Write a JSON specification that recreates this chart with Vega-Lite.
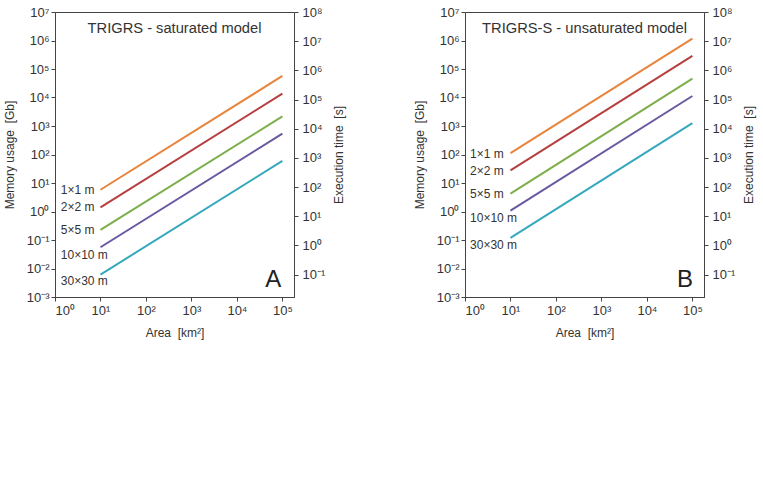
{
  "$schema": "https://vega.github.io/schema/vega-lite/v6.json",
  "background": "white",
  "padding": {"left": 2, "top": 5, "right": 5, "bottom": 5},
  "config": {
    "font": "Liberation Sans",
    "view": {"stroke": "#444", "strokeWidth": 1},
    "axis": {
      "grid": false,
      "domainColor": "#444",
      "tickColor": "#444",
      "labelColor": "#333",
      "titleColor": "#333",
      "labelFontSize": 13,
      "titleFontSize": 12,
      "titleFontWeight": "normal",
      "tickSize": 4,
      "labelPadding": 2
    },
    "title": {"fontSize": 14.7, "fontWeight": "normal", "color": "#333"},
    "text": {"font": "Liberation Sans"}
  },
  "datasets": {
    "linesA": [
      {"res": "1×1 m", "area": 10, "mem": 5.8},
      {"res": "1×1 m", "area": 100000, "mem": 57000},
      {"res": "2×2 m", "area": 10, "mem": 1.39},
      {"res": "2×2 m", "area": 100000, "mem": 13700},
      {"res": "5×5 m", "area": 10, "mem": 0.227},
      {"res": "5×5 m", "area": 100000, "mem": 2170},
      {"res": "10×10 m", "area": 10, "mem": 0.0557},
      {"res": "10×10 m", "area": 100000, "mem": 537},
      {"res": "30×30 m", "area": 10, "mem": 0.0061},
      {"res": "30×30 m", "area": 100000, "mem": 60}
    ],
    "linesB": [
      {"res": "1×1 m", "area": 10, "mem": 112},
      {"res": "1×1 m", "area": 100000, "mem": 1170000},
      {"res": "2×2 m", "area": 10, "mem": 27.6},
      {"res": "2×2 m", "area": 100000, "mem": 288000},
      {"res": "5×5 m", "area": 10, "mem": 4.27},
      {"res": "5×5 m", "area": 100000, "mem": 46000},
      {"res": "10×10 m", "area": 10, "mem": 1.08},
      {"res": "10×10 m", "area": 100000, "mem": 11300},
      {"res": "30×30 m", "area": 10, "mem": 0.119},
      {"res": "30×30 m", "area": 100000, "mem": 1270}
    ],
    "labelsA": [
      {"res": "1×1 m", "area": 1.34, "mem": 5.7},
      {"res": "2×2 m", "area": 1.34, "mem": 1.43},
      {"res": "5×5 m", "area": 1.34, "mem": 0.221},
      {"res": "10×10 m", "area": 1.34, "mem": 0.0292},
      {"res": "30×30 m", "area": 1.34, "mem": 0.00355}
    ],
    "labelsB": [
      {"res": "1×1 m", "area": 1.29, "mem": 106},
      {"res": "2×2 m", "area": 1.29, "mem": 26.3},
      {"res": "5×5 m", "area": 1.29, "mem": 4.27},
      {"res": "10×10 m", "area": 1.29, "mem": 0.58},
      {"res": "30×30 m", "area": 1.29, "mem": 0.067}
    ],
    "letterA": [{"txt": "A", "area": 63000, "mem": 0.0041}],
    "letterB": [{"txt": "B", "area": 69000, "mem": 0.0041}],
    "timeExtent": [{"t": 0.017}, {"t": 100000000}]
  },
  "spacing": 66,
  "hconcat": [
    {
      "width": 239,
      "height": 285,
      "title": {"text": "TRIGRS - saturated model", "offset": -30, "anchor": "middle", "frame": "group"},
      "layer": [
        {
          "layer": [
            {
              "data": {"name": "linesA"},
              "mark": {"type": "line", "strokeWidth": 2},
              "encoding": {
                "x": {"field": "area", "type": "quantitative",
                  "scale": {"type": "log", "domain": [1, 180000], "nice": false},
                  "axis": {"values": [1, 10, 100, 1000, 10000, 100000], "title": "Area\u00a0\u00a0[km²]", "titlePadding": 10, "labelPadding": 3,
                    "labelExpr": "'10' + (datum.value < 0.99 ? '⁻' : '') + substring('⁰¹²³⁴⁵⁶⁷⁸⁹', abs(round(log(datum.value)/LN10)), abs(round(log(datum.value)/LN10))+1)"}},
                "y": {"field": "mem", "type": "quantitative",
                  "scale": {"type": "log", "domain": [0.001, 10000000], "nice": false},
                  "axis": {"orient": "left", "values": [0.001, 0.01, 0.1, 1, 10, 100, 1000, 10000, 100000, 1000000, 10000000],
                    "title": "Memory usage\u00a0\u00a0[Gb]", "titlePadding": 10,
                    "labelExpr": "'10' + (datum.value < 0.99 ? '⁻' : '') + substring('⁰¹²³⁴⁵⁶⁷⁸⁹', abs(round(log(datum.value)/LN10)), abs(round(log(datum.value)/LN10))+1)"}},
                "color": {"field": "res", "type": "nominal",
                  "scale": {"domain": ["1×1 m", "2×2 m", "5×5 m", "10×10 m", "30×30 m"],
                    "range": ["#E8843C", "#B5403F", "#7DAE4A", "#6A58A0", "#35A8BE"]},
                  "legend": null}
              }
            },
            {
              "data": {"name": "labelsA"},
              "mark": {"type": "text", "align": "left", "baseline": "middle", "fontSize": 12, "color": "#333"},
              "encoding": {
                "x": {"field": "area", "type": "quantitative"},
                "y": {"field": "mem", "type": "quantitative"},
                "text": {"field": "res"}
              }
            },
            {
              "data": {"name": "letterA"},
              "mark": {"type": "text", "align": "center", "baseline": "middle", "fontSize": 24, "color": "#222"},
              "encoding": {
                "x": {"field": "area", "type": "quantitative"},
                "y": {"field": "mem", "type": "quantitative"},
                "text": {"field": "txt"}
              }
            }
          ]
        },
        {
          "data": {"name": "timeExtent"},
          "mark": {"type": "point", "opacity": 0},
          "encoding": {
            "y": {"field": "t", "type": "quantitative",
              "scale": {"type": "log", "domain": [0.017, 100000000], "nice": false},
              "axis": {"orient": "right", "values": [0.1, 1, 10, 100, 1000, 10000, 100000, 1000000, 10000000, 100000000],
                "title": "Execution time\u00a0\u00a0[s]", "titleAngle": 270, "titleBaseline": "top", "titlePadding": 9, "labelPadding": 4,
                "labelExpr": "'10' + (datum.value < 0.99 ? '⁻' : '') + substring('⁰¹²³⁴⁵⁶⁷⁸⁹', abs(round(log(datum.value)/LN10)), abs(round(log(datum.value)/LN10))+1)"}}
          }
        }
      ],
      "resolve": {"scale": {"y": "independent"}}
    },
    {
      "width": 239,
      "height": 285,
      "title": {"text": "TRIGRS-S - unsaturated model", "offset": -30, "anchor": "middle", "frame": "group"},
      "layer": [
        {
          "layer": [
            {
              "data": {"name": "linesB"},
              "mark": {"type": "line", "strokeWidth": 2},
              "encoding": {
                "x": {"field": "area", "type": "quantitative",
                  "scale": {"type": "log", "domain": [1, 180000], "nice": false},
                  "axis": {"values": [1, 10, 100, 1000, 10000, 100000], "title": "Area\u00a0\u00a0[km²]", "titlePadding": 10, "labelPadding": 3,
                    "labelExpr": "'10' + (datum.value < 0.99 ? '⁻' : '') + substring('⁰¹²³⁴⁵⁶⁷⁸⁹', abs(round(log(datum.value)/LN10)), abs(round(log(datum.value)/LN10))+1)"}},
                "y": {"field": "mem", "type": "quantitative",
                  "scale": {"type": "log", "domain": [0.001, 10000000], "nice": false},
                  "axis": {"orient": "left", "values": [0.001, 0.01, 0.1, 1, 10, 100, 1000, 10000, 100000, 1000000, 10000000],
                    "title": "Memory usage\u00a0\u00a0[Gb]", "titlePadding": 10,
                    "labelExpr": "'10' + (datum.value < 0.99 ? '⁻' : '') + substring('⁰¹²³⁴⁵⁶⁷⁸⁹', abs(round(log(datum.value)/LN10)), abs(round(log(datum.value)/LN10))+1)"}},
                "color": {"field": "res", "type": "nominal",
                  "scale": {"domain": ["1×1 m", "2×2 m", "5×5 m", "10×10 m", "30×30 m"],
                    "range": ["#E8843C", "#B5403F", "#7DAE4A", "#6A58A0", "#35A8BE"]},
                  "legend": null}
              }
            },
            {
              "data": {"name": "labelsB"},
              "mark": {"type": "text", "align": "left", "baseline": "middle", "fontSize": 12, "color": "#333"},
              "encoding": {
                "x": {"field": "area", "type": "quantitative"},
                "y": {"field": "mem", "type": "quantitative"},
                "text": {"field": "res"}
              }
            },
            {
              "data": {"name": "letterB"},
              "mark": {"type": "text", "align": "center", "baseline": "middle", "fontSize": 24, "color": "#222"},
              "encoding": {
                "x": {"field": "area", "type": "quantitative"},
                "y": {"field": "mem", "type": "quantitative"},
                "text": {"field": "txt"}
              }
            }
          ]
        },
        {
          "data": {"name": "timeExtent"},
          "mark": {"type": "point", "opacity": 0},
          "encoding": {
            "y": {"field": "t", "type": "quantitative",
              "scale": {"type": "log", "domain": [0.017, 100000000], "nice": false},
              "axis": {"orient": "right", "values": [0.1, 1, 10, 100, 1000, 10000, 100000, 1000000, 10000000, 100000000],
                "title": "Execution time\u00a0\u00a0[s]", "titleAngle": 270, "titleBaseline": "top", "titlePadding": 9, "labelPadding": 4,
                "labelExpr": "'10' + (datum.value < 0.99 ? '⁻' : '') + substring('⁰¹²³⁴⁵⁶⁷⁸⁹', abs(round(log(datum.value)/LN10)), abs(round(log(datum.value)/LN10))+1)"}}
          }
        }
      ],
      "resolve": {"scale": {"y": "independent"}}
    }
  ]
}
